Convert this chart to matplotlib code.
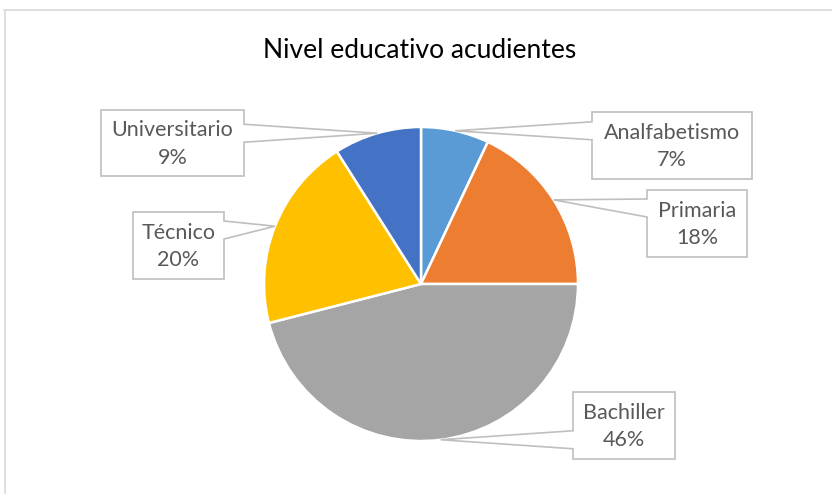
import numpy as np
import matplotlib
matplotlib.use("Agg")
import matplotlib.pyplot as plt
from matplotlib.patches import Polygon
from matplotlib.lines import Line2D

categorias = ["Analfabetismo", "Primaria", "Bachiller", "Técnico", "Universitario"]
valores = [7, 18, 46, 20, 9]
colores = ["#5B9BD5", "#ED7D31", "#A5A5A5", "#FFC000", "#4472C4"]
titulo = "Nivel educativo acudientes"

# cajas de etiquetas en pixeles (x0, y0, x1, y1), y medido desde arriba
cajas = [(592, 112, 752, 179),
         (647, 190, 747, 257),
         (573, 392, 675, 459),
         (133, 212, 224, 279),
         (101, 110, 244, 176)]

W, H = 832, 494
fig = plt.figure(figsize=(W / 100, H / 100), dpi=100)

cx, cy, r = 421, 284, 157
ax = fig.add_axes([(cx - r) / W, (H - cy - r) / H, 2 * r / W, 2 * r / H])
wedges, _ = ax.pie(valores, colors=colores, startangle=90, counterclock=False,
                   radius=1, wedgeprops=dict(edgecolor="white", linewidth=1.8))
ax.set_xlim(-1, 1)
ax.set_ylim(-1, 1)
ax.axis("off")

fig.canvas.draw()


def px(x, y):
    # pixel desde arriba -> fraccion de figura
    return (x / W, (H - y) / H)


for w, cat, val, caja in zip(wedges, categorias, valores, cajas):
    ang = np.deg2rad((w.theta1 + w.theta2) / 2)
    tx, ty = ax.transData.transform((np.cos(ang), np.sin(ang)))
    ty = H - ty
    x0, y0, x1, y1 = caja
    yc = min(max(ty, y0 + 18), y1 - 18)
    if tx > x1:
        pts = [(x0, y0), (x1, y0), (x1, yc - 9), (tx, ty), (x1, yc + 9),
               (x1, y1), (x0, y1)]
    else:
        pts = [(x0, y0), (x1, y0), (x1, y1), (x0, y1), (x0, yc + 9),
               (tx, ty), (x0, yc - 9)]
    poly = Polygon([px(*p) for p in pts], closed=True, transform=fig.transFigure,
                   facecolor="white", edgecolor="#BFBFBF", linewidth=1.2)
    fig.add_artist(poly)
    fig.text(*px((x0 + x1) / 2, (y0 + y1) / 2 + 1), f"{cat}\n{val}%",
             ha="center", va="center", fontsize=15.5, color="#595959",
             family="Lato", linespacing=1.45)

fig.text(*px(420, 50), titulo, ha="center", va="center", fontsize=19,
         color="#000000", family="Lato")

# borde del area del grafico
fig.add_artist(Line2D([4 / W, 1], [(H - 10.5) / H] * 2, transform=fig.transFigure,
                      color="#D9D9D9", linewidth=1.2))
fig.add_artist(Line2D([5 / W] * 2, [0, (H - 10.5) / H], transform=fig.transFigure,
                      color="#D9D9D9", linewidth=1.2))

fig.savefig("out.png", dpi=100, facecolor="white")
